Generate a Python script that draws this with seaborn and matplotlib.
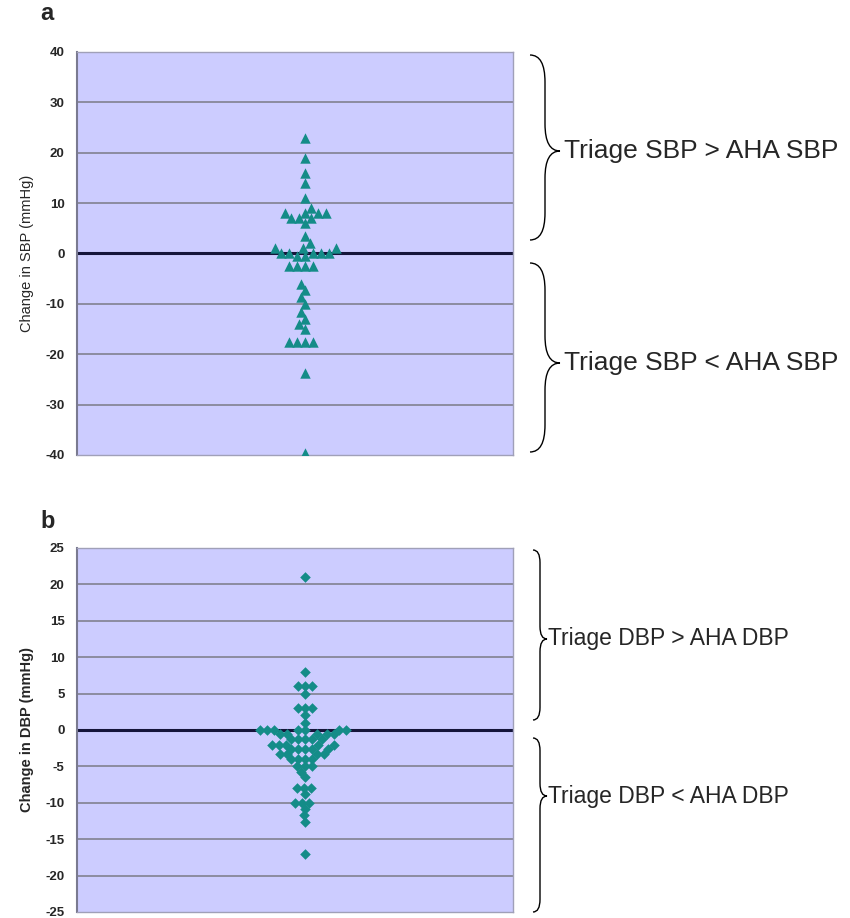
import numpy as np
import pandas as pd
import matplotlib
matplotlib.use('Agg')
import matplotlib.pyplot as plt
import seaborn as sns
from matplotlib.path import Path
from matplotlib.patches import PathPatch

# values (mmHg)
sbp_change = [23, 19, 16, 14, 11, 9, 8, 8, 8, 8, 7, 7, 7, 6, 3.5, 2, 1, 1, 1,
              0, 0, 0, 0, 0, -0.5, -0.5, -2.4, -2.4, -2.4, -2.4, -6, -7.3, -8.7,
              -10, -11.7, -13, -14, -15, -17.6, -17.6, -17.6, -17.6, -23.8, -39.6]
dbp_change = [21, 8, 6, 6, 6, 5, 3, 3, 3, 2, 1,
              0, 0, 0, 0, 0, 0, 0,
              -0.6, -0.6, -0.6, -0.6, -0.6,
              -1.3, -1.3, -1.3, -1.3, -1.3,
              -2, -2, -2, -2, -2,
              -2.6, -2.6, -2.6, -2.6, -2.6,
              -3.3, -3.3, -3.3, -3.3,
              -4, -4, -4, -4,
              -5, -5, -5, -5.8, -6.5, -7.9, -7.9, -7.9, -8.8,
              -10, -10, -10, -10.8, -11.7, -12.6, -17]

sbp_ticks = [-40, -30, -20, -10, 0, 10, 20, 30, 40]
dbp_ticks = [-25, -20, -15, -10, -5, 0, 5, 10, 15, 20, 25]

teal = '#148c88'
bg = '#ccccff'
grid_c = '#8c8ca0'

W, H = 850, 918
fig = plt.figure(figsize=(W / 100, H / 100), dpi=100)
sns.set_style('white')
plt.rcParams['font.family'] = ['Liberation Sans', 'DejaVu Sans']


def px_axes(left, top, right, bottom):
    return fig.add_axes([left / W, 1 - bottom / H, (right - left) / W, (bottom - top) / H])


def style_axis(ax, ticks, label, label_bold):
    ax.set_facecolor(bg)
    ax.set_ylim(ticks[0], ticks[-1])
    ax.set_yticks(ticks)
    ax.set_yticklabels([str(t) for t in ticks], fontweight='bold', fontsize=9.5)
    ax.set_xlim(-1, 0.91)
    ax.set_xticks([])
    ax.set_xlabel('')
    for t in ticks:
        if t == 0:
            ax.axhline(0, color='#15153a', lw=2.2, zorder=1)
        elif t not in (ticks[0], ticks[-1]):
            ax.axhline(t, color=grid_c, lw=1.4, zorder=1)
    for s in ax.spines.values():
        s.set_color('#a0a0b8')
        s.set_linewidth(1)
    ax.spines['left'].set_color('#7a7a90')
    ax.spines['left'].set_linewidth(1.5)
    ax.tick_params(axis='y', length=5, width=1, color='#7a7a90', pad=4)
    ax.set_ylabel(label, fontsize=10.5, fontweight='bold' if label_bold else 'normal', labelpad=8)


def brace(x0, w, ytop, ybot, ytip):
    # curly bracket in pixel coordinates, tip to the right
    xm = x0 + w / 2
    r = w * 0.9
    verts = [(x0, ytop), (xm, ytop), (xm, ytop + r),
             (xm, ytip - r),
             (xm, ytip), (x0 + w, ytip),
             (xm, ytip), (xm, ytip + r),
             (xm, ybot - r),
             (xm, ybot), (x0, ybot)]
    codes = [Path.MOVETO, Path.CURVE3, Path.CURVE3, Path.LINETO,
             Path.CURVE3, Path.CURVE3, Path.CURVE3, Path.CURVE3,
             Path.LINETO, Path.CURVE3, Path.CURVE3]
    verts = [(x / W, 1 - y / H) for x, y in verts]
    fig.add_artist(PathPatch(Path(verts, codes), transform=fig.transFigure,
                             fill=False, lw=1.0, color='black'))


# panel a
ax1 = px_axes(77, 52, 513, 455)
sns.swarmplot(y=sbp_change, ax=ax1, marker='^', color=teal, size=5.6, zorder=3)
style_axis(ax1, sbp_ticks, 'Change in SBP (mmHg)', False)

# panel b
ax2 = px_axes(77, 548, 513, 912)
sns.swarmplot(y=dbp_change, ax=ax2, marker='D', color=teal, size=4.8, zorder=3)
style_axis(ax2, dbp_ticks, 'Change in DBP (mmHg)', True)

# lay the swarms out with smaller markers, then freeze them and draw bigger
# markers so they overlap a little like in the original
fig.canvas.draw()
for ax, s in [(ax1, 7.5), (ax2, 5.4)]:
    pts = ax.collections[0]
    del pts.draw
    pts.set_sizes([s ** 2])

fig.text(40 / W, 1 - 14 / H, 'a', fontsize=17, fontweight='bold', va='center')
fig.text(40 / W, 1 - 522 / H, 'b', fontsize=17, fontweight='bold', va='center')

brace(530, 30, 55, 240, 151)
brace(530, 30, 263, 452, 363)
fig.text(564 / W, 1 - 151 / H, 'Triage SBP > AHA SBP', fontsize=19, va='center')
fig.text(564 / W, 1 - 363 / H, 'Triage SBP < AHA SBP', fontsize=19, va='center')

brace(533, 14, 550, 720, 639)
brace(533, 14, 738, 912, 796)
fig.text(548 / W, 1 - 639 / H, 'Triage DBP > AHA DBP', fontsize=16.5, va='center')
fig.text(548 / W, 1 - 796 / H, 'Triage DBP < AHA DBP', fontsize=16.5, va='center')

fig.savefig('out.png', dpi=100)
